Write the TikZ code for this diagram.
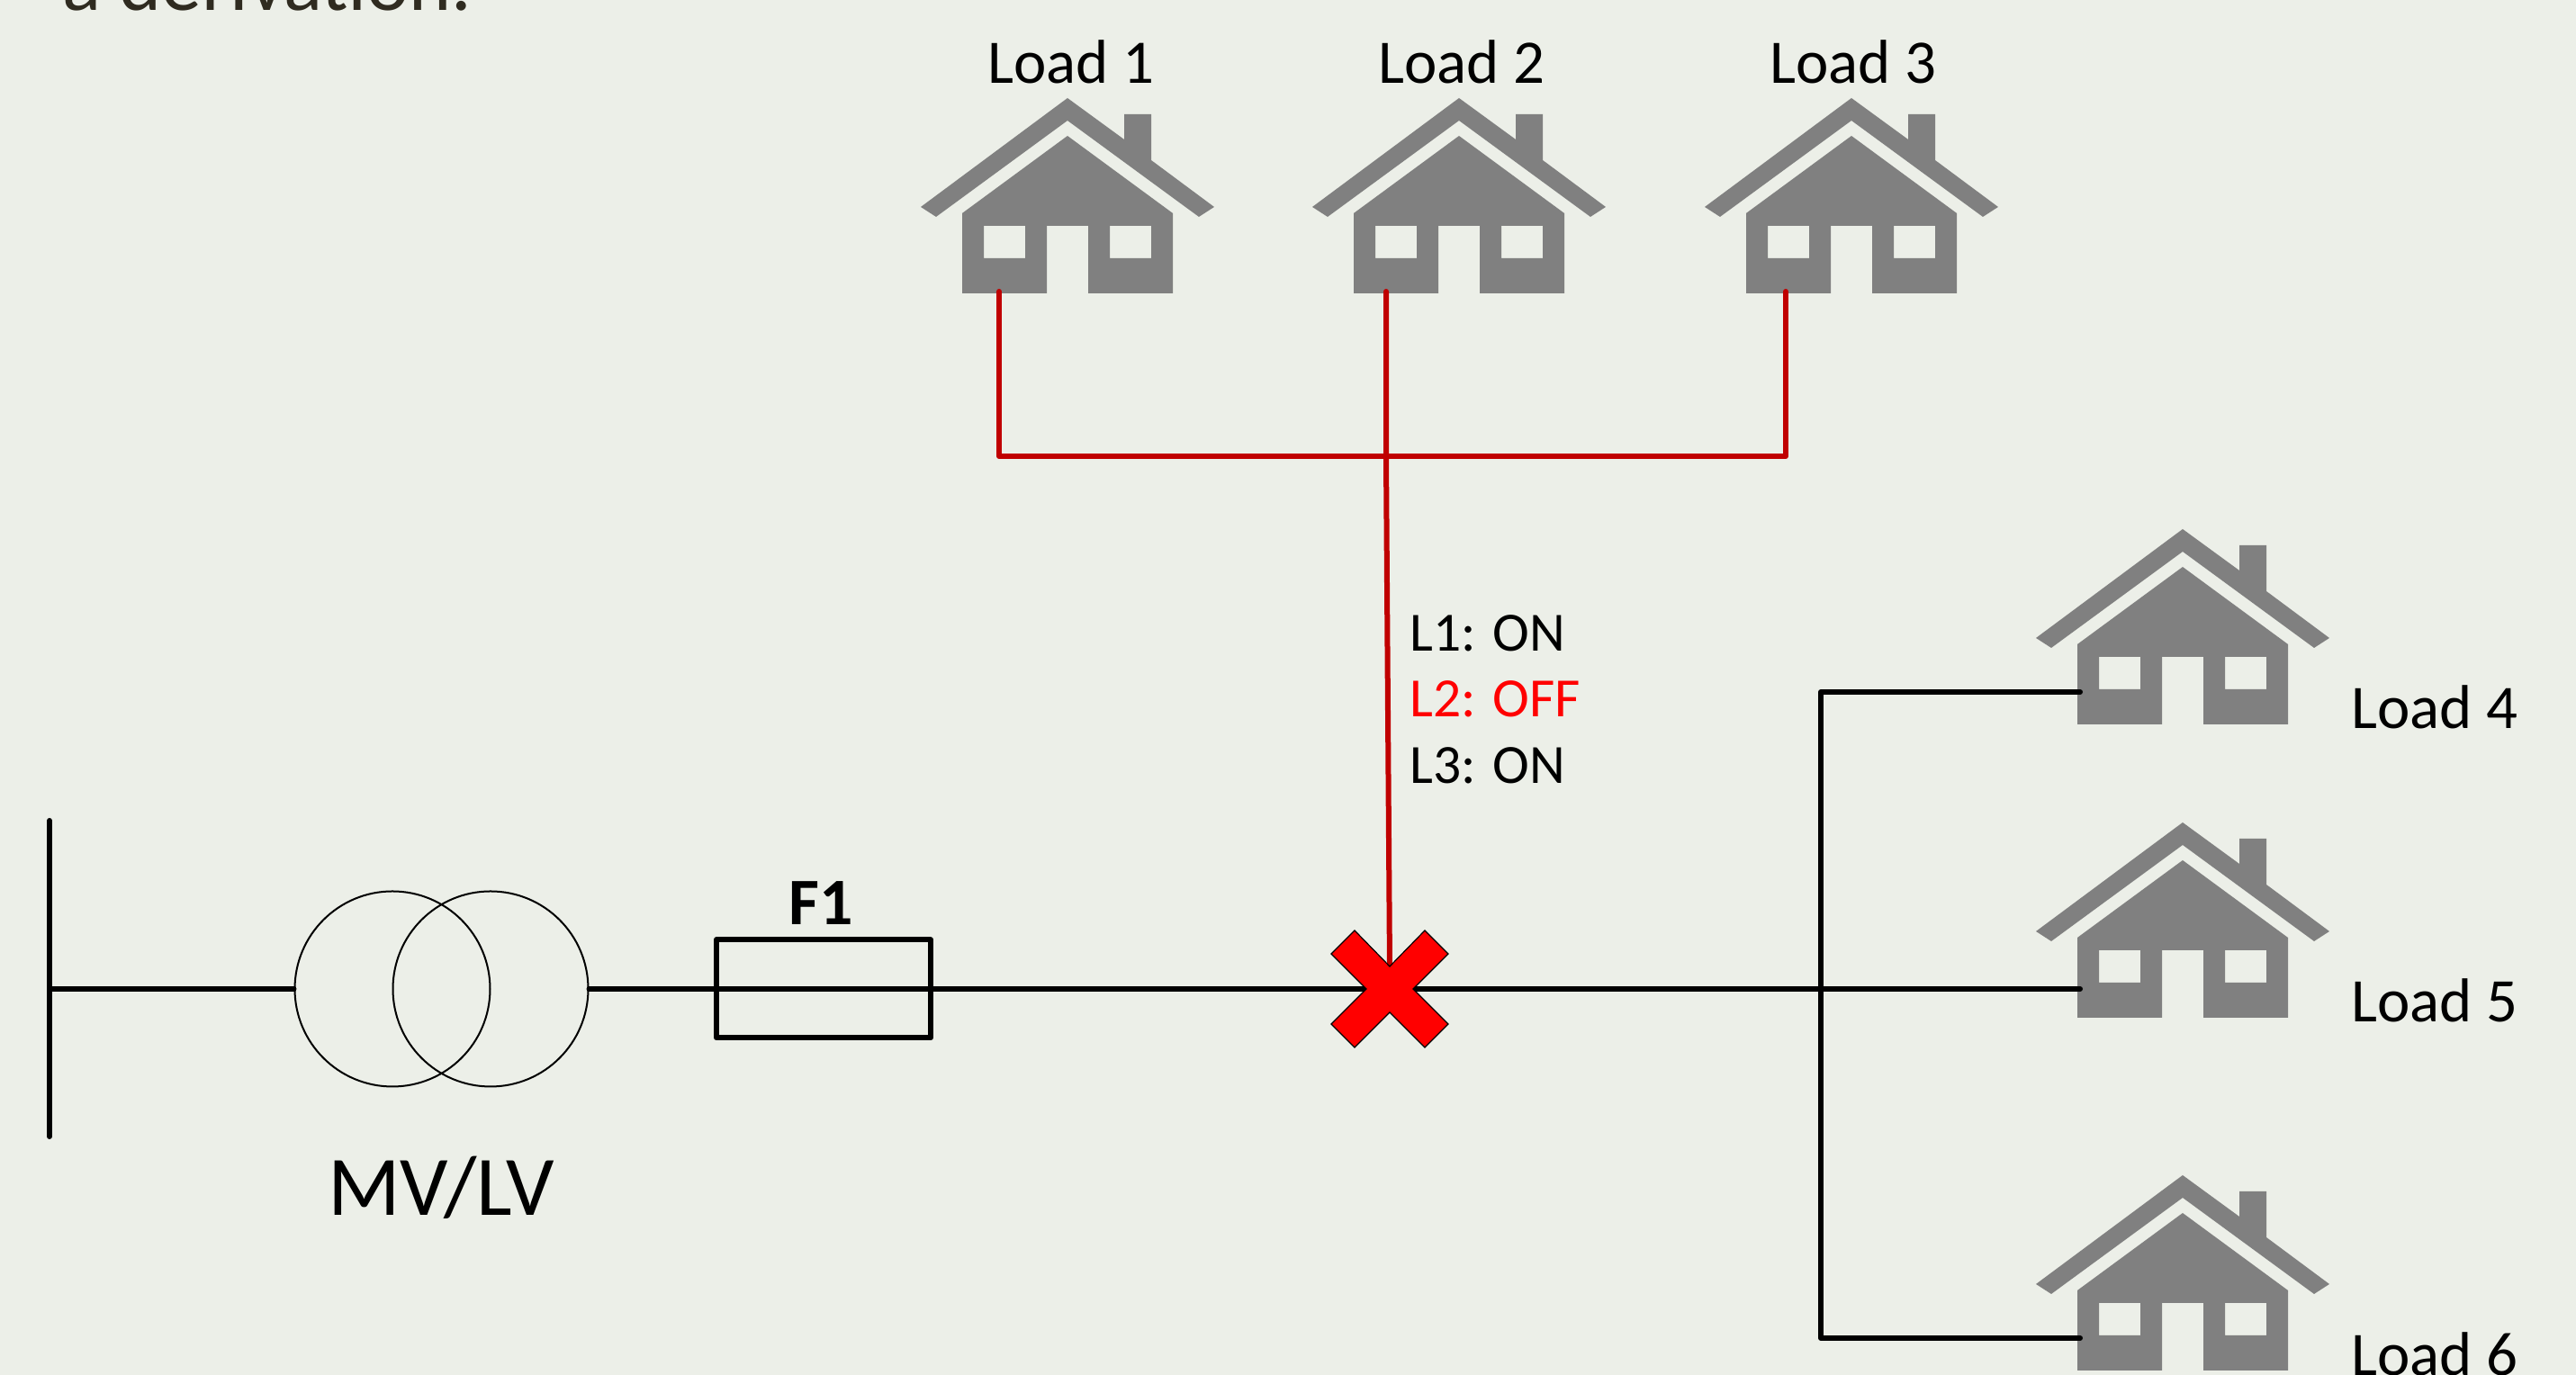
\documentclass[tikz,border=0pt]{standalone}
\usepackage{fontspec}
\setmainfont{Carlito}
\definecolor{slidebg}{HTML}{ECEFE8}
\definecolor{slideink}{HTML}{2F2B20}
\definecolor{feedred}{HTML}{C00000}
\definecolor{housegray}{HTML}{808080}
\tikzset{
	wire/.style={line width=0.06cm, line cap=round, line join=round},
	feeder/.style={wire, color=feedred},
	winding/.style={shape=circle, draw, line width=0.02cm, minimum size=2.17cm, inner sep=0pt},
	fusebox/.style={shape=rectangle, draw, wire, minimum width=2.38cm, minimum height=1.09cm, inner sep=0pt},
	lbl/.style={anchor=base west, inner sep=0pt, font=\fontsize{19.6}{22}\selectfont},
	lblc/.style={lbl, anchor=base},
	status/.style={lbl, font=\fontsize{17.5}{22}\selectfont},
	loadhouse/.pic={
		\fill[housegray] (0, 0) -- (0.63, -0.46) -- (0.63, -0.18) -- (0.93, -0.18) -- (0.93, -0.69) -- (1.63, -1.21) -- (1.46, -1.32) -- (0, -0.25) -- (-1.46, -1.32) -- (-1.63, -1.21) -- cycle;
		\fill[housegray, even odd rule] (0, -0.42) -- (1.17, -1.28) -- (1.17, -2.17) -- (0.23, -2.17) -- (0.23, -1.42) -- (-0.23, -1.42) -- (-0.23, -2.17) -- (-1.17, -2.17) -- (-1.17, -1.28) -- cycle
			(-0.93, -1.42) rectangle (-0.47, -1.78)
			(0.47, -1.42) rectangle (0.93, -1.78);
	}
}
\begin{document}
\begin{tikzpicture}
	\useasboundingbox (0, 0) rectangle (28.62, 15.28);
	\fill[slidebg] (0, 0) rectangle (28.62, 15.28);
	\node[lbl, text=slideink, font=\fontsize{25.5}{30}\selectfont](Ttl) at (0.69, 15.16){a derivation.};
	\pic at (11.86, 14.19) {loadhouse};
	\pic at (16.21, 14.19) {loadhouse};
	\pic at (20.57, 14.19) {loadhouse};
	\pic at (24.25, 9.40) {loadhouse};
	\pic at (24.25, 6.14) {loadhouse};
	\pic at (24.25, 2.22) {loadhouse};
	\node[lblc](L1) at (11.90, 14.35){Load 1};
	\node[lblc](L2) at (16.24, 14.35){Load 2};
	\node[lblc](L3) at (20.59, 14.35){Load 3};
	\node[lbl](L4) at (26.12, 7.18){Load 4};
	\node[lbl](L5) at (26.12, 3.92){Load 5};
	\node[lbl](L6) at (26.12, -0.01){Load 6};
	\node[status](S1) at (15.66, 8.04){L1: ON};
	\node[status, text=red](S2) at (15.66, 7.31){L2: OFF};
	\node[status](S3) at (15.66, 6.57){L3: ON};
	\coordinate (BT) at (0.55, 6.16);
	\coordinate (BM) at (0.55, 4.29);
	\coordinate (BB) at (0.55, 2.65);
	\node[winding](T1) at (4.36, 4.29){};
	\node[winding](T2) at (5.45, 4.29){};
	\node[lblc, font=\fontsize{26.8}{30}\selectfont](TL) at (4.90, 1.77){MV/LV};
	\node[fusebox](F1) at (9.15, 4.29){};
	\node[lblc, font=\fontsize{21}{24}\selectfont\bfseries](FL) at (9.12, 5.00){F1};
	\coordinate (XP) at (15.44, 4.29);
	\coordinate (XT) at (15.44, 4.53);
	\coordinate (J1) at (20.23, 7.59);
	\coordinate (J2) at (20.23, 4.29);
	\coordinate (J3) at (20.23, 0.41);
	\coordinate (H4) at (23.11, 7.59);
	\coordinate (H5) at (23.11, 4.29);
	\coordinate (H6) at (23.11, 0.41);
	\coordinate (H1) at (11.10, 12.04);
	\coordinate (H2) at (15.40, 12.04);
	\coordinate (H3) at (19.84, 12.04);
	\coordinate (R1) at (11.10, 10.21);
	\coordinate (R2) at (15.40, 10.21);
	\coordinate (R3) at (19.84, 10.21);
	\draw[wire] (BT) -- (BB);
	\draw[wire] (BM) -- (T1.west);
	\draw[wire] (T2.east) -- (F1.west);
	\draw[wire] (F1.west) -- (F1.east) -- (XP) -- (H5);
	\draw[wire] (H4) -- (J1) -- (J3) -- (H6);
	\draw[feeder] (H1) -- (R1) -- (R3) -- (H3);
	\draw[feeder] (H2) -- (R2) -- (XT);
	\draw[fill=red, line width=0.012cm, shift={(XP)}] (0, 0.25) -- (0.39, 0.65) -- (0.65, 0.39) -- (0.26, 0) -- (0.65, -0.39) -- (0.39, -0.65) -- (0, -0.26) -- (-0.39, -0.65) -- (-0.65, -0.39) -- (-0.26, 0) -- (-0.65, 0.39) -- (-0.39, 0.65) -- cycle;
\end{tikzpicture}
\end{document}
